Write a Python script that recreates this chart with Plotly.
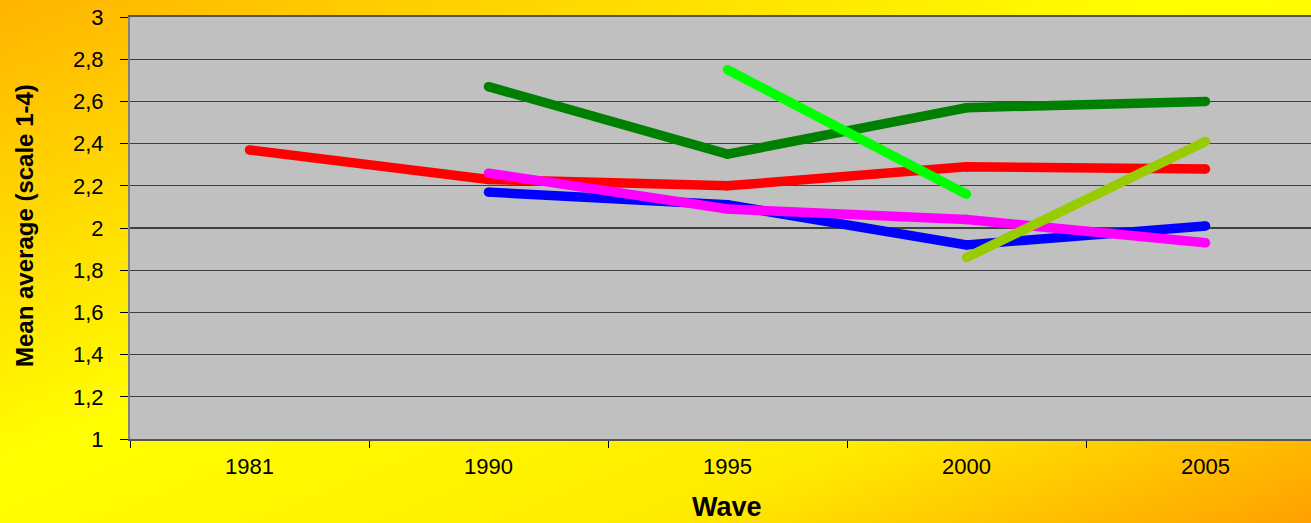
import base64
import plotly.graph_objects as go

waves = ["1981", "1990", "1995", "2000", "2005"]
series_red = [2.37, 2.23, 2.20, 2.29, 2.28]
series_blue = [None, 2.17, 2.11, 1.92, 2.01]
series_darkgreen = [None, 2.67, 2.35, 2.57, 2.60]
series_magenta = [None, 2.26, 2.09, 2.04, 1.93]
series_lime = [None, None, 2.75, 2.16, None]
series_yellowgreen = [None, None, None, 1.86, 2.41]

y_ticks = [1, 1.2, 1.4, 1.6, 1.8, 2, 2.2, 2.4, 2.6, 2.8, 3]

W, H = 1311, 523
ML, MR, MT, MB = 130, 0, 17, 84
PW, PH = W - ML - MR, H - MT - MB

series = [
    (series_red, "#FF0000"),
    (series_blue, "#0000FF"),
    (series_darkgreen, "#008000"),
    (series_magenta, "#FF00FF"),
    (series_lime, "#00FF00"),
    (series_yellowgreen, "#99CC00"),
]

fig = go.Figure()
for vals, col in series:
    fig.add_trace(go.Scatter(
        x=waves, y=vals, mode="lines+markers",
        line=dict(color=col, width=9.5),
        marker=dict(color=col, size=9.5, line=dict(width=0)),
        hoverinfo="skip", showlegend=False,
    ))

svg = (
    f'<svg xmlns="http://www.w3.org/2000/svg" width="{W}" height="{H}" preserveAspectRatio="none">'
    '<defs><linearGradient id="g" x1="0" y1="0" x2="1" y2="1">'
    '<stop offset="0" stop-color="#FFB400"/>'
    '<stop offset="0.45" stop-color="#FFFF00"/>'
    '<stop offset="0.75" stop-color="#FFEC00"/>'
    '<stop offset="1" stop-color="#FFA000"/>'
    '</linearGradient></defs>'
    f'<rect x="0" y="0" width="{W}" height="{H}" fill="url(#g)"/>'
    f'<rect x="{ML}" y="{MT}" width="{PW}" height="{PH}" fill="#C0C0C0"/></svg>'
)
src = "data:image/svg+xml;base64," + base64.b64encode(svg.encode()).decode()

fig.add_layout_image(dict(
    source=src, xref="paper", yref="paper",
    x=-ML / PW, y=1 + MT / PH, sizex=W / PW, sizey=H / PH,
    xanchor="left", yanchor="top", sizing="stretch", layer="below",
))

cat_w = 239.0
fig.update_xaxes(
    type="category", range=[-0.5, -0.5 + PW / cat_w],
    tickson="boundaries", ticks="outside", ticklen=7, tickcolor="#000000", tickwidth=1,
    showgrid=False, showline=True, linecolor="#555555", linewidth=2, mirror=True,
    tickfont=dict(family="Liberation Sans, Arial, sans-serif", size=22, color="#000000"),
    ticklabelstandoff=7, zeroline=False,
)
fig.update_yaxes(
    range=[1, 3], tickvals=y_ticks, ticks="outside", ticklen=8, tickcolor="#000000", tickwidth=1,
    showgrid=True, gridcolor="#404040", gridwidth=1.3,
    showline=True, linecolor="#808080", linewidth=2,
    tickfont=dict(family="Liberation Sans, Arial, sans-serif", size=22, color="#000000"),
    ticklabelstandoff=12, zeroline=False,
)

fig.add_annotation(
    text="<b>Mean average (scale 1-4)</b>", xref="paper", yref="paper",
    x=(24 - ML) / PW, y=1 - (226 - MT) / PH, textangle=-90,
    xanchor="center", yanchor="middle", showarrow=False,
    font=dict(family="Liberation Sans, Arial, sans-serif", size=24, color="#000000"),
)
fig.add_annotation(
    text="<b>Wave</b>", xref="paper", yref="paper",
    x=(727 - ML) / PW, y=1 - (507 - MT) / PH,
    xanchor="center", yanchor="middle", showarrow=False,
    font=dict(family="Liberation Sans, Arial, sans-serif", size=27, color="#000000"),
)

fig.update_layout(
    width=W, height=H,
    margin=dict(l=ML, r=MR, t=MT, b=MB, pad=0),
    paper_bgcolor="#FFEE00", plot_bgcolor="rgba(0,0,0,0)",
    separators=",.",
    showlegend=False,
)

fig.write_html(
    "out.html",
    config={"displayModeBar": False, "staticPlot": True},
    post_script="document.body.style.margin='0';document.body.style.overflow='hidden';",
)
